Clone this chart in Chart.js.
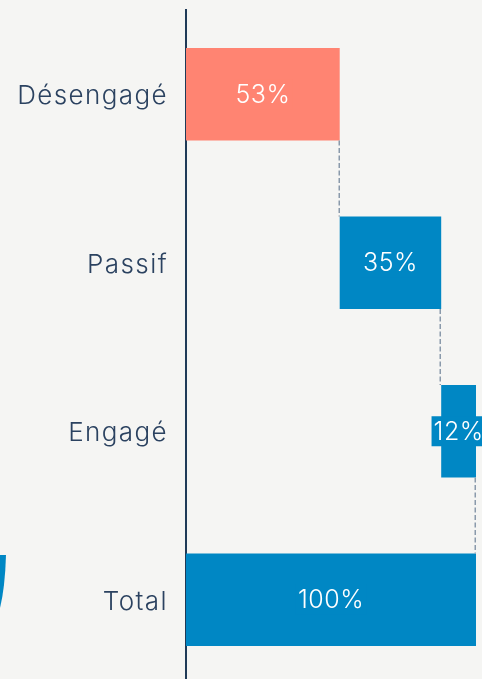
<!DOCTYPE html>
<html>
<head>
<meta charset="utf-8">
<script src="https://cdn.jsdelivr.net/npm/chart.js@4"></script>
<style>
html,body{margin:0;padding:0;background:#f5f5f3;overflow:hidden;}
#wrap{position:relative;width:482px;height:684px;}
</style>
</head>
<body>
<div id="wrap"><canvas id="c"></canvas></div>
<script>
const categories = ["Désengagé", "Passif", "Engagé", "Total"];
const startValues = [0, 53, 88, 0];
const endValues = [53, 88, 100, 100];
const valueLabels = ["53%", "35%", "12%", "100%"];
const barColors = ["#ff8472", "#0087c4", "#0087c4", "#0087c4"];

const FONT = "Inter, 'Noto Sans', sans-serif";
const TEXT = "#2b4260";

const decoPlugin = {
  id: 'deco',
  beforeDraw(chart) {
    const ctx = chart.ctx;
    ctx.letterSpacing = '1.4px';
    ctx.save();
    ctx.fillStyle = '#0087c4';
    ctx.beginPath();
    ctx.moveTo(0, 555);
    ctx.lineTo(6, 555);
    ctx.quadraticCurveTo(5, 588, 0, 608);
    ctx.closePath();
    ctx.fill();
    ctx.restore();
  }
};

const connectorPlugin = {
  id: 'connectors',
  afterDatasetsDraw(chart) {
    const ctx = chart.ctx;
    const els = chart.getDatasetMeta(0).data;
    ctx.save();
    ctx.strokeStyle = '#8a9aab';
    ctx.lineWidth = 1.5;
    ctx.setLineDash([5, 2.5]);
    for (let i = 0; i < els.length - 1; i++) {
      const a = els[i], b = els[i + 1];
      const x = Math.round(a.x) - 0.75;
      ctx.beginPath();
      ctx.moveTo(x, a.y + a.height / 2);
      ctx.lineTo(x, b.y - b.height / 2);
      ctx.stroke();
    }
    ctx.restore();
  }
};

const labelPlugin = {
  id: 'valueLabels',
  afterDatasetsDraw(chart) {
    const ctx = chart.ctx;
    const els = chart.getDatasetMeta(0).data;
    ctx.save();
    ctx.letterSpacing = '0.5px';
    ctx.font = "300 25px " + FONT;
    ctx.textAlign = 'center';
    ctx.textBaseline = 'middle';
    els.forEach((el, i) => {
      const cx = (el.x + el.base) / 2;
      const cy = el.y;
      const w = ctx.measureText(valueLabels[i]).width;
      ctx.fillStyle = barColors[i];
      ctx.fillRect(cx - w / 2 - 2, cy - 15, w + 4, 30);
      ctx.fillStyle = '#ffffff';
      ctx.fillText(valueLabels[i], cx, cy + 1);
    });
    ctx.restore();
  }
};

new Chart(document.getElementById('c'), {
  type: 'bar',
  data: {
    labels: categories,
    datasets: [{
      data: categories.map((_, i) => [startValues[i], endValues[i]]),
      backgroundColor: barColors,
      borderWidth: 0,
      categoryPercentage: 1,
      barPercentage: 0.55
    }]
  },
  options: {
    indexAxis: 'y',
    responsive: true,
    maintainAspectRatio: false,
    animation: false,
    layout: { padding: { top: 10, right: 0, bottom: 0, left: 0 } },
    plugins: { legend: { display: false }, tooltip: { enabled: false } },
    scales: {
      x: { display: false, min: 0, max: 102.07 },
      y: {
        grid: { display: false, drawTicks: false },
        border: { display: true, color: '#1f3a57', width: 2 },
        ticks: { color: TEXT, font: { family: FONT, size: 26, weight: '300' }, padding: 18, labelOffset: 2 },
        afterFit(scale) { scale.width = 186; scale.paddingTop = 0; scale.paddingBottom = 0; }
      }
    }
  },
  plugins: [decoPlugin, connectorPlugin, labelPlugin]
});
</script>
</body>
</html>
